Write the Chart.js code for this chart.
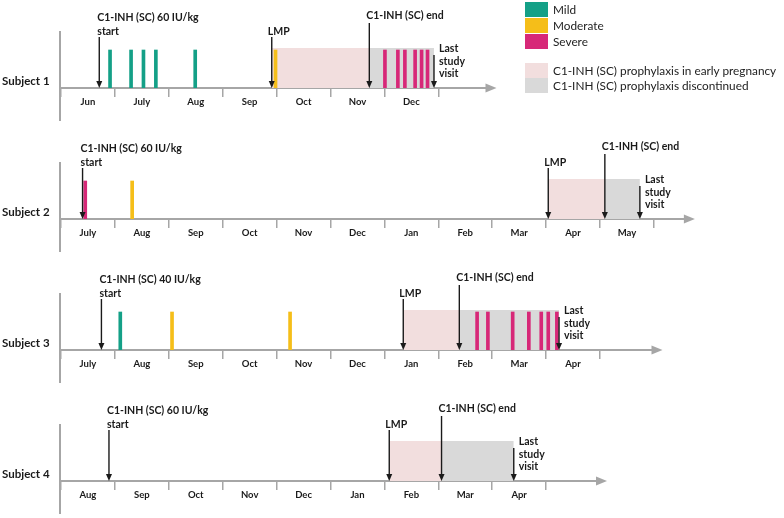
<!DOCTYPE html>
<html>
<head>
<meta charset="utf-8">
<script src="https://cdn.jsdelivr.net/npm/chart.js@4.4.0/dist/chart.umd.min.js"></script>
<style>
  body { margin: 0; width: 784px; height: 518px; background: #fff; position: relative; overflow: hidden; font-family: Lato, sans-serif; }
  .band { position: absolute; left: 0; width: 784px; }
  #legend { position: absolute; left: 525px; top: 1px; font-size: 11.8px; color: #222; z-index: 2; }
  .row { display: flex; align-items: center; height: 16px; white-space: nowrap; }
  .row.small { height: 15px; }
  .sw { width: 23px; height: 15px; margin-right: 5px; }
  .gap { height: 14px; }
</style>
</head>
<body>
<div id="legend"></div>
<script>
/* DATA (months counted from the left end of each timeline) */
const subjects = ["Subject 1", "Subject 2", "Subject 3", "Subject 4"];
const monthLabels = [
    ["Jun", "July", "Aug", "Sep", "Oct", "Nov", "Dec"],
    ["July", "Aug", "Sep", "Oct", "Nov", "Dec", "Jan", "Feb", "Mar", "Apr", "May"],
    ["July", "Aug", "Sep", "Oct", "Nov", "Dec", "Jan", "Feb", "Mar", "Apr"],
    ["Aug", "Sep", "Oct", "Nov", "Dec", "Jan", "Feb", "Mar", "Apr"]
];
const mildAttacks = [[0.91, 1.30, 1.53, 1.76, 2.49], [], [1.10], []];
const moderateAttacks = [[3.98], [1.32], [2.06, 4.25], []];
const severeAttacks = [
    [6.01, 6.25, 6.38, 6.57, 6.69, 6.80],
    [0.45],
    [7.72, 7.92, 8.38, 8.68, 8.91, 9.04, 9.20],
    []
];
const doseLabels = ["C1-INH (SC) 60 IU/kg", "C1-INH (SC) 60 IU/kg", "C1-INH (SC) 40 IU/kg", "C1-INH (SC) 60 IU/kg"];
const startDates = [0.71, 0.40, 0.75, 0.89];
const lmpDates = [3.91, 9.04, 6.35, 6.09];
const endDates = [5.72, 10.09, 7.39, 7.06];
const lastVisitDates = [6.92, 10.74, 9.24, 8.40];
const axisEnds = [8.08, 11.76, 11.16, 10.13];
const severityLabels = ["Mild", "Moderate", "Severe"];
const periodLabels = ["C1-INH (SC) prophylaxis in early pregnancy", "C1-INH (SC) prophylaxis discontinued"];

/* STYLE / LAYOUT */
const severityColors = ["#14a087", "#f5be19", "#d72878"];
const periodColors = ["#f2dede", "#d9d9d9"];
const AXIS_COLOR = "#a6a6a6";
const INK = "#1a1a1a";
const AXIS_LEFT = 61;
const PX_MONTH = 53.9;
const X_MAX = (784 - AXIS_LEFT) / PX_MONTH;
const X_SCALE_H = 36;
const BAR_LEVEL = 1, SHADE_LEVEL = 1.05;
const bands = [
    { top: 0, height: 124, padTop: 31 },
    { top: 130, height: 125, padTop: 32 },
    { top: 262, height: 124, padTop: 31 },
    { top: 395, height: 122, padTop: 29 }
];

/* LEGEND */
const legend = document.getElementById("legend");
severityLabels.forEach((l, i) => {
    legend.innerHTML += `<div class="row"><div class="sw" style="background:${severityColors[i]}"></div>${l}</div>`;
});
legend.innerHTML += `<div class="gap"></div>`;
periodLabels.forEach((l, i) => {
    legend.innerHTML += `<div class="row small"><div class="sw" style="background:${periodColors[i]}"></div>${l}</div>`;
});

/* ARROWS + LABELS */
function downArrow(ctx, x, yTop, yBottom) {
    ctx.beginPath();
    ctx.moveTo(x, yTop);
    ctx.lineTo(x, yBottom - 5);
    ctx.stroke();
    ctx.beginPath();
    ctx.moveTo(x, yBottom);
    ctx.lineTo(x - 3, yBottom - 7);
    ctx.lineTo(x + 3, yBottom - 7);
    ctx.closePath();
    ctx.fill();
}

const timelinePlugin = {
    id: "timeline",
    beforeDatasetsDraw(chart, args, o) {
        const { ctx, chartArea: a, scales: { x } } = chart;
        const y0 = a.bottom;
        const tip = x.getPixelForValue(o.axisEnd);
        ctx.save();
        ctx.strokeStyle = AXIS_COLOR;
        ctx.fillStyle = AXIS_COLOR;
        ctx.lineWidth = 2;
        ctx.beginPath();
        ctx.moveTo(a.left - 1, a.top);
        ctx.lineTo(a.left - 1, y0 + 33);
        ctx.stroke();
        ctx.beginPath();
        ctx.moveTo(a.left - 1, y0);
        ctx.lineTo(tip - 9, y0);
        ctx.stroke();
        ctx.beginPath();
        ctx.moveTo(tip, y0);
        ctx.lineTo(tip - 11, y0 - 4.5);
        ctx.lineTo(tip - 11, y0 + 4.5);
        ctx.closePath();
        ctx.fill();
        ctx.restore();
    },
    afterDatasetsDraw(chart, args, o) {
        const { ctx, chartArea: a, scales: { x } } = chart;
        const y0 = a.bottom;
        const px = v => x.getPixelForValue(v);
        ctx.save();
        ctx.strokeStyle = INK;
        ctx.fillStyle = INK;
        ctx.lineWidth = 1.4;
        downArrow(ctx, px(o.start), y0 - 51, y0);
        downArrow(ctx, px(o.lmp), y0 - 51, y0);
        downArrow(ctx, px(o.end), y0 - 65, y0);
        downArrow(ctx, px(o.last), y0 - 33, y0);

        ctx.textAlign = "left";
        ctx.textBaseline = "middle";
        ctx.font = "bold 10.5px Lato";
        ctx.fillText(o.dose, px(o.start) - 2, y0 - 70);
        ctx.fillText("start", px(o.start) - 2, y0 - 56);
        ctx.fillText("LMP", px(o.lmp) - 4, y0 - 56);
        ctx.fillText("C1-INH (SC) end", px(o.end) - 3, y0 - 72);
        ctx.fillText("Last", px(o.last) + 5, y0 - 39);
        ctx.fillText("study", px(o.last) + 5, y0 - 26);
        ctx.fillText("visit", px(o.last) + 5, y0 - 14);

        ctx.font = "bold 11.5px Lato";
        ctx.fillText(o.name, 2, y0 - 7);
        ctx.restore();
    }
};

function attackBars(dates, color) {
    return {
        type: "bar",
        data: dates.map(d => ({ x: d, y: BAR_LEVEL })),
        backgroundColor: color,
        barThickness: 3,
        grouped: false,
        order: 1
    };
}

function period(from, to, color) {
    return {
        type: "line",
        data: [{ x: from, y: SHADE_LEVEL }, { x: to, y: SHADE_LEVEL }],
        fill: "origin",
        backgroundColor: color,
        borderWidth: 0,
        pointRadius: 0,
        order: 3
    };
}

/* CHARTS */
subjects.forEach((name, i) => {
    const band = bands[i];
    const months = monthLabels[i];
    const div = document.createElement("div");
    div.className = "band";
    div.style.top = band.top + "px";
    div.style.height = band.height + "px";
    const canvas = document.createElement("canvas");
    canvas.width = 784;
    canvas.height = band.height;
    div.appendChild(canvas);
    document.body.appendChild(div);

    new Chart(canvas, {
        type: "bar",
        data: {
            datasets: [
                period(lmpDates[i], endDates[i], periodColors[0]),
                period(endDates[i], lastVisitDates[i], periodColors[1]),
                attackBars(mildAttacks[i], severityColors[0]),
                attackBars(moderateAttacks[i], severityColors[1]),
                attackBars(severeAttacks[i], severityColors[2])
            ]
        },
        plugins: [timelinePlugin],
        options: {
            responsive: false,
            animation: false,
            layout: { padding: { left: AXIS_LEFT, top: band.padTop, right: 0, bottom: 0 } },
            plugins: {
                legend: { display: false },
                tooltip: { enabled: false },
                timeline: {
                    name: name,
                    dose: doseLabels[i],
                    start: startDates[i],
                    lmp: lmpDates[i],
                    end: endDates[i],
                    last: lastVisitDates[i],
                    axisEnd: axisEnds[i]
                }
            },
            scales: {
                x: {
                    type: "linear",
                    min: 0,
                    max: X_MAX,
                    offset: false,
                    afterBuildTicks: s => {
                        s.ticks = months.map((m, k) => ({ value: k })).concat([{ value: months.length }]);
                    },
                    afterFit: s => { s.height = X_SCALE_H; },
                    grid: { offset: false, drawOnChartArea: false, drawTicks: true, tickLength: 9, color: AXIS_COLOR, lineWidth: 1.5 },
                    border: { display: false },
                    ticks: {
                        autoSkip: false,
                        maxRotation: 0,
                        labelOffset: PX_MONTH / 2,
                        padding: -1,
                        color: INK,
                        font: { family: "Lato", weight: "bold", size: 9.5 },
                        callback: (v, k) => months[k] || ""
                    }
                },
                y: { display: false, min: 0, max: 1.5 }
            }
        }
    });
});
</script>
</body>
</html>
